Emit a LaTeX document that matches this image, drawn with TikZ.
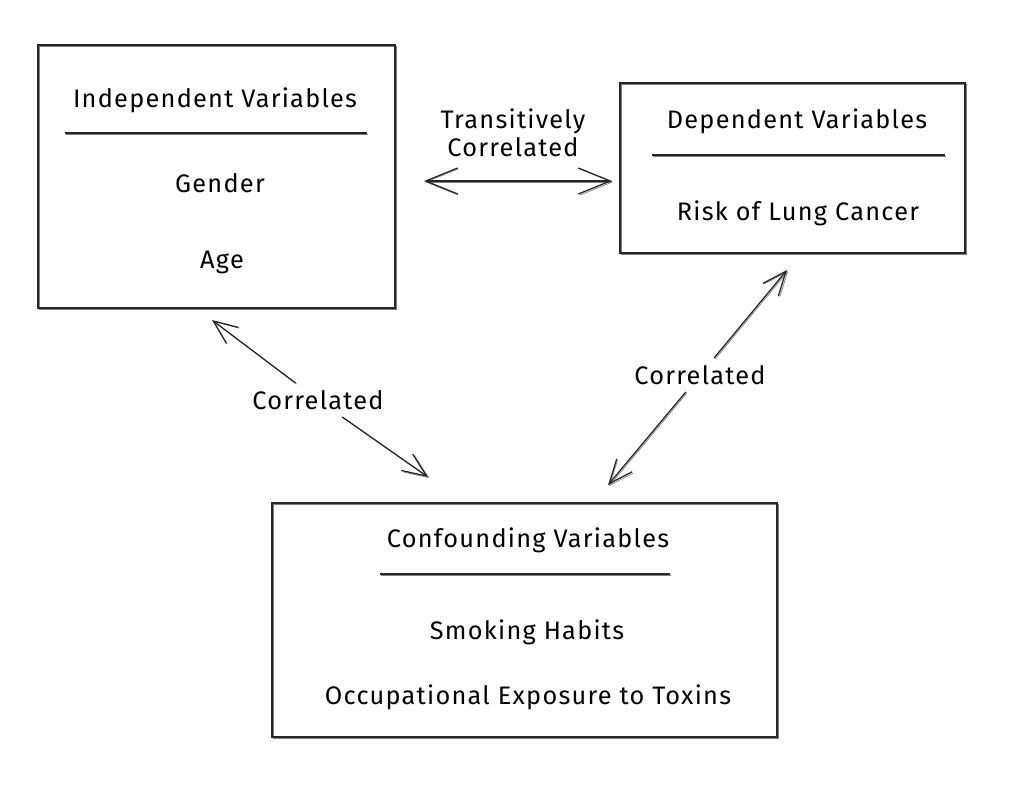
\documentclass[tikz,border=0pt]{standalone}
\usepackage{fontspec}
\setmainfont{Fira Sans}[LetterSpace=5]
\usetikzlibrary{arrows.meta}

\begin{document}
\begin{tikzpicture}[x=0.025cm, y=-0.025cm,
	sketch/.style={draw=black!85, line width=0.9pt, preaction={draw=black!50, line width=0.5pt, transform canvas={shift={(0.8pt,-0.7pt)}}}},
	box/.style={sketch, rectangle, inner sep=0pt},
	txt/.style={font=\fontsize{18}{21}\selectfont, inner sep=2pt},
	lbl/.style={font=\fontsize{18}{20}\selectfont, align=center, inner sep=5pt},
	barb/.style={sketch, -{Straight Barb[length=6mm,width=5mm]}},
	dblbarb/.style={sketch, {Straight Barb[length=8mm,width=6.5mm]}-{Straight Barb[length=8mm,width=6.5mm]}}]
	\useasboundingbox (0,0) rectangle (1010,790);
	% boxes
	\node[box, minimum width=8.925cm, minimum height=6.575cm] (indep) at (216.5,176.5) {};
	\node[box, minimum width=8.625cm, minimum height=4.25cm] (dep) at (792.5,168) {};
	\node[box, minimum width=12.625cm, minimum height=5.85cm] (conf) at (524.5,620) {};
	% independent
	\node[txt] (indepT) at (215,100) {Independent Variables};
	\draw[sketch] (65,133) -- (367,133);
	\node[txt] (gender) at (220,183) {Gender};
	\node[txt] (age) at (222,262) {Age};
	% dependent
	\node[txt] (depT) at (797,121) {Dependent Variables};
	\draw[sketch] (652,155) -- (945,155);
	\node[txt] (risk) at (798,213) {Risk of Lung Cancer};
	% confounding
	\node[txt] (confT) at (528,540) {Confounding Variables};
	\draw[sketch] (380,574) -- (670,574);
	\node[txt] (smoke) at (527,632) {Smoking Habits};
	\node[txt] (toxin) at (528,697) {Occupational Exposure to Toxins};
	% labels
	\node[lbl] (trans) at (513,133) {Transitively\\Correlated};
	\node[lbl] (corrL) at (318,400) {Correlated};
	\node[lbl] (corrR) at (700,375) {Correlated};
	\coordinate (trL) at (424,181);
	\coordinate (trR) at (612,181);
	\coordinate (tipIn) at (212,320);
	\coordinate (tipCf) at (428,477);
	\coordinate (tipDp) at (787,270);
	\coordinate (tipCf2) at (608,485);
	% arrows
	\draw[dblbarb] (trL) -- (trR);
	\draw[barb] (corrL) -- (tipIn);
	\draw[barb] (corrL) -- (tipCf);
	\draw[barb] (corrR) -- (tipDp);
	\draw[barb] (corrR) -- (tipCf2);
\end{tikzpicture}
\end{document}
